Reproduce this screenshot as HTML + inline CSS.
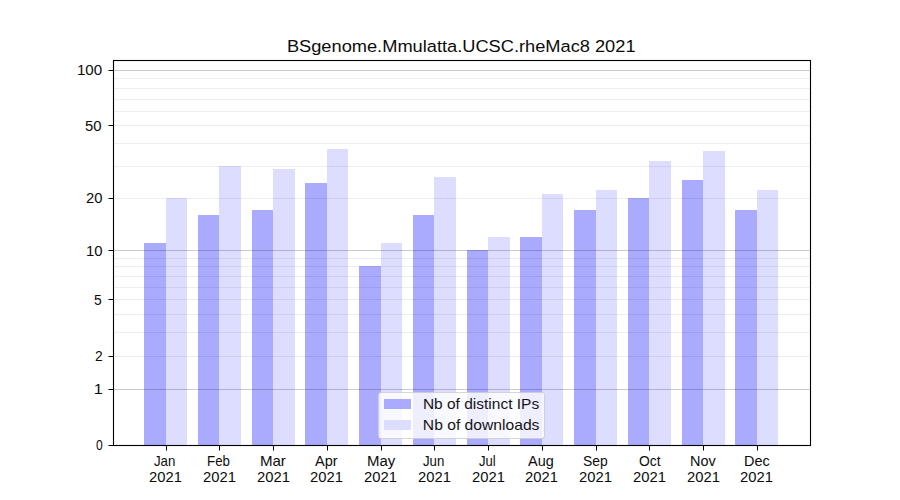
<!DOCTYPE html>
<html><head><meta charset="utf-8"><title>BSgenome.Mmulatta.UCSC.rheMac8 2021</title>
<style>html,body{margin:0;padding:0;background:#fff;width:900px;height:500px;overflow:hidden}svg{display:block}text{font-family:"Liberation Sans",sans-serif}</style></head>
<body><svg width="900" height="500" viewBox="0 0 900 500" shape-rendering="crispEdges" font-family="Liberation Sans, sans-serif">
<rect x="0" y="0" width="900" height="500" fill="#fff"/>
<rect x="144" y="243" width="22" height="202" fill="#aaaaff"/>
<rect x="166" y="198" width="21" height="247" fill="#ddddff"/>
<rect x="198" y="215" width="21" height="230" fill="#aaaaff"/>
<rect x="219" y="166" width="22" height="279" fill="#ddddff"/>
<rect x="252" y="210" width="21" height="235" fill="#aaaaff"/>
<rect x="273" y="169" width="22" height="276" fill="#ddddff"/>
<rect x="305" y="183" width="22" height="262" fill="#aaaaff"/>
<rect x="327" y="149" width="21" height="296" fill="#ddddff"/>
<rect x="359" y="266" width="22" height="179" fill="#aaaaff"/>
<rect x="381" y="243" width="21" height="202" fill="#ddddff"/>
<rect x="413" y="215" width="21" height="230" fill="#aaaaff"/>
<rect x="434" y="177" width="22" height="268" fill="#ddddff"/>
<rect x="467" y="250" width="21" height="195" fill="#aaaaff"/>
<rect x="488" y="237" width="22" height="208" fill="#ddddff"/>
<rect x="520" y="237" width="22" height="208" fill="#aaaaff"/>
<rect x="542" y="194" width="21" height="251" fill="#ddddff"/>
<rect x="574" y="210" width="22" height="235" fill="#aaaaff"/>
<rect x="596" y="190" width="21" height="255" fill="#ddddff"/>
<rect x="628" y="198" width="21" height="247" fill="#aaaaff"/>
<rect x="649" y="161" width="22" height="284" fill="#ddddff"/>
<rect x="682" y="180" width="21" height="265" fill="#aaaaff"/>
<rect x="703" y="151" width="22" height="294" fill="#ddddff"/>
<rect x="735" y="210" width="22" height="235" fill="#aaaaff"/>
<rect x="757" y="190" width="21" height="255" fill="#ddddff"/>
<rect x="114" y="389" width="696" height="1" fill="#000" fill-opacity="0.2"/>
<rect x="114" y="250" width="696" height="1" fill="#000" fill-opacity="0.2"/>
<rect x="114" y="70" width="696" height="1" fill="#000" fill-opacity="0.2"/>
<rect x="114" y="356" width="696" height="1" fill="#000" fill-opacity="0.065"/>
<rect x="114" y="332" width="696" height="1" fill="#000" fill-opacity="0.065"/>
<rect x="114" y="314" width="696" height="1" fill="#000" fill-opacity="0.065"/>
<rect x="114" y="299" width="696" height="1" fill="#000" fill-opacity="0.065"/>
<rect x="114" y="287" width="696" height="1" fill="#000" fill-opacity="0.065"/>
<rect x="114" y="276" width="696" height="1" fill="#000" fill-opacity="0.065"/>
<rect x="114" y="266" width="696" height="1" fill="#000" fill-opacity="0.065"/>
<rect x="114" y="258" width="696" height="1" fill="#000" fill-opacity="0.065"/>
<rect x="114" y="198" width="696" height="1" fill="#000" fill-opacity="0.065"/>
<rect x="114" y="166" width="696" height="1" fill="#000" fill-opacity="0.065"/>
<rect x="114" y="143" width="696" height="1" fill="#000" fill-opacity="0.065"/>
<rect x="114" y="125" width="696" height="1" fill="#000" fill-opacity="0.065"/>
<rect x="114" y="111" width="696" height="1" fill="#000" fill-opacity="0.065"/>
<rect x="114" y="99" width="696" height="1" fill="#000" fill-opacity="0.065"/>
<rect x="114" y="88" width="696" height="1" fill="#000" fill-opacity="0.065"/>
<rect x="114" y="78" width="696" height="1" fill="#000" fill-opacity="0.065"/>
<g fill="#000">
<rect x="113" y="60" width="698" height="1"/><rect x="113" y="445" width="698" height="1"/>
<rect x="113" y="60" width="1" height="386"/><rect x="810" y="60" width="1" height="386"/>
</g><g fill="#000" fill-opacity="0.055">
<rect x="113" y="59" width="698" height="1"/><rect x="113" y="61" width="697" height="1"/>
<rect x="113" y="444" width="697" height="1"/><rect x="113" y="446" width="698" height="1"/>
<rect x="112" y="59" width="1" height="388"/><rect x="114" y="61" width="1" height="383"/>
<rect x="809" y="61" width="1" height="383"/><rect x="811" y="59" width="1" height="388"/>
</g>
<g fill="#000">
<rect x="109" y="445" width="4" height="1"/><rect x="108" y="445" width="1" height="1" fill-opacity="0.5"/>
<rect x="109" y="389" width="4" height="1"/><rect x="108" y="389" width="1" height="1" fill-opacity="0.5"/>
<rect x="109" y="356" width="4" height="1"/><rect x="108" y="356" width="1" height="1" fill-opacity="0.5"/>
<rect x="109" y="299" width="4" height="1"/><rect x="108" y="299" width="1" height="1" fill-opacity="0.5"/>
<rect x="109" y="250" width="4" height="1"/><rect x="108" y="250" width="1" height="1" fill-opacity="0.5"/>
<rect x="109" y="198" width="4" height="1"/><rect x="108" y="198" width="1" height="1" fill-opacity="0.5"/>
<rect x="109" y="125" width="4" height="1"/><rect x="108" y="125" width="1" height="1" fill-opacity="0.5"/>
<rect x="109" y="70" width="4" height="1"/><rect x="108" y="70" width="1" height="1" fill-opacity="0.5"/>
<rect x="166" y="446" width="1" height="4"/><rect x="166" y="450" width="1" height="1" fill-opacity="0.5"/>
<rect x="219" y="446" width="1" height="4"/><rect x="219" y="450" width="1" height="1" fill-opacity="0.5"/>
<rect x="273" y="446" width="1" height="4"/><rect x="273" y="450" width="1" height="1" fill-opacity="0.5"/>
<rect x="327" y="446" width="1" height="4"/><rect x="327" y="450" width="1" height="1" fill-opacity="0.5"/>
<rect x="381" y="446" width="1" height="4"/><rect x="381" y="450" width="1" height="1" fill-opacity="0.5"/>
<rect x="434" y="446" width="1" height="4"/><rect x="434" y="450" width="1" height="1" fill-opacity="0.5"/>
<rect x="488" y="446" width="1" height="4"/><rect x="488" y="450" width="1" height="1" fill-opacity="0.5"/>
<rect x="542" y="446" width="1" height="4"/><rect x="542" y="450" width="1" height="1" fill-opacity="0.5"/>
<rect x="596" y="446" width="1" height="4"/><rect x="596" y="450" width="1" height="1" fill-opacity="0.5"/>
<rect x="649" y="446" width="1" height="4"/><rect x="649" y="450" width="1" height="1" fill-opacity="0.5"/>
<rect x="703" y="446" width="1" height="4"/><rect x="703" y="450" width="1" height="1" fill-opacity="0.5"/>
<rect x="757" y="446" width="1" height="4"/><rect x="757" y="450" width="1" height="1" fill-opacity="0.5"/>
</g>
<g fill="#0c0c0c">
<text transform="translate(154.00,466) scale(0.9545,1.03)" font-size="13.8889">Jan</text>
<text transform="translate(149.00,482) scale(1.0645,1.03)" font-size="13.8889">2021</text>
<text transform="translate(207.04,466) scale(0.9565,1.03)" font-size="13.8889">Feb</text>
<text transform="translate(203.00,482) scale(1.0645,1.03)" font-size="13.8889">2021</text>
<text transform="translate(259.91,466) scale(1.0870,1.03)" font-size="13.8889">Mar</text>
<text transform="translate(257.00,482) scale(1.0645,1.03)" font-size="13.8889">2021</text>
<text transform="translate(315.00,466) scale(1.0455,1.03)" font-size="13.8889">Apr</text>
<text transform="translate(310.00,482) scale(1.0645,1.03)" font-size="13.8889">2021</text>
<text transform="translate(366.92,466) scale(1.0800,1.03)" font-size="13.8889">May</text>
<text transform="translate(364.00,482) scale(1.0645,1.03)" font-size="13.8889">2021</text>
<text transform="translate(423.00,466) scale(0.9545,1.03)" font-size="13.8889">Jun</text>
<text transform="translate(418.00,482) scale(1.0645,1.03)" font-size="13.8889">2021</text>
<text transform="translate(479.00,466) scale(0.9412,1.03)" font-size="13.8889">Jul</text>
<text transform="translate(472.00,482) scale(1.0645,1.03)" font-size="13.8889">2021</text>
<text transform="translate(528.00,466) scale(1.0417,1.03)" font-size="13.8889">Aug</text>
<text transform="translate(525.00,482) scale(1.0645,1.03)" font-size="13.8889">2021</text>
<text transform="translate(583.00,466) scale(1.0000,1.03)" font-size="13.8889">Sep</text>
<text transform="translate(579.00,482) scale(1.0645,1.03)" font-size="13.8889">2021</text>
<text transform="translate(639.00,466) scale(1.0000,1.03)" font-size="13.8889">Oct</text>
<text transform="translate(633.00,482) scale(1.0645,1.03)" font-size="13.8889">2021</text>
<text transform="translate(689.96,466) scale(1.0417,1.03)" font-size="13.8889">Nov</text>
<text transform="translate(687.00,482) scale(1.0645,1.03)" font-size="13.8889">2021</text>
<text transform="translate(743.96,466) scale(1.0435,1.03)" font-size="13.8889">Dec</text>
<text transform="translate(740.00,482) scale(1.0645,1.03)" font-size="13.8889">2021</text>
<text transform="translate(96.00,450) scale(0.8750,1.03)" font-size="13.8889">0</text>
<text transform="translate(93.83,394) scale(1.1667,1.03)" font-size="13.8889">1</text>
<text transform="translate(95.00,361) scale(1.0000,1.03)" font-size="13.8889">2</text>
<text transform="translate(94.00,305) scale(1.0000,1.03)" font-size="13.8889">5</text>
<text transform="translate(85.93,256) scale(1.0714,1.03)" font-size="13.8889">10</text>
<text transform="translate(86.00,203) scale(1.0667,1.03)" font-size="13.8889">20</text>
<text transform="translate(84.93,131) scale(1.0714,1.03)" font-size="13.8889">50</text>
<text transform="translate(76.91,75) scale(1.0909,1.03)" font-size="13.8889">100</text>
<text transform="translate(286.91,52) scale(1.0946,1.03)" font-size="16.6667">BSgenome.Mmulatta.UCSC.rheMac8 2021</text>
</g>
<rect x="378.5" y="392.5" width="166" height="46" rx="2.8" ry="2.8" fill="#fff" fill-opacity="0.8" stroke="#ccc" stroke-opacity="0.8" stroke-width="1.11" shape-rendering="geometricPrecision"/>
<rect x="384" y="399" width="27" height="10" fill="#aaaaff"/>
<rect x="384" y="420" width="27" height="10" fill="#ddddff"/>
<g fill="#141414">
<text transform="translate(422.88,409) scale(1.1165,1.03)" font-size="13.8889">Nb of distinct IPs</text>
<text transform="translate(422.87,430) scale(1.1275,1.03)" font-size="13.8889">Nb of downloads</text>
</g>
</svg></body></html>
